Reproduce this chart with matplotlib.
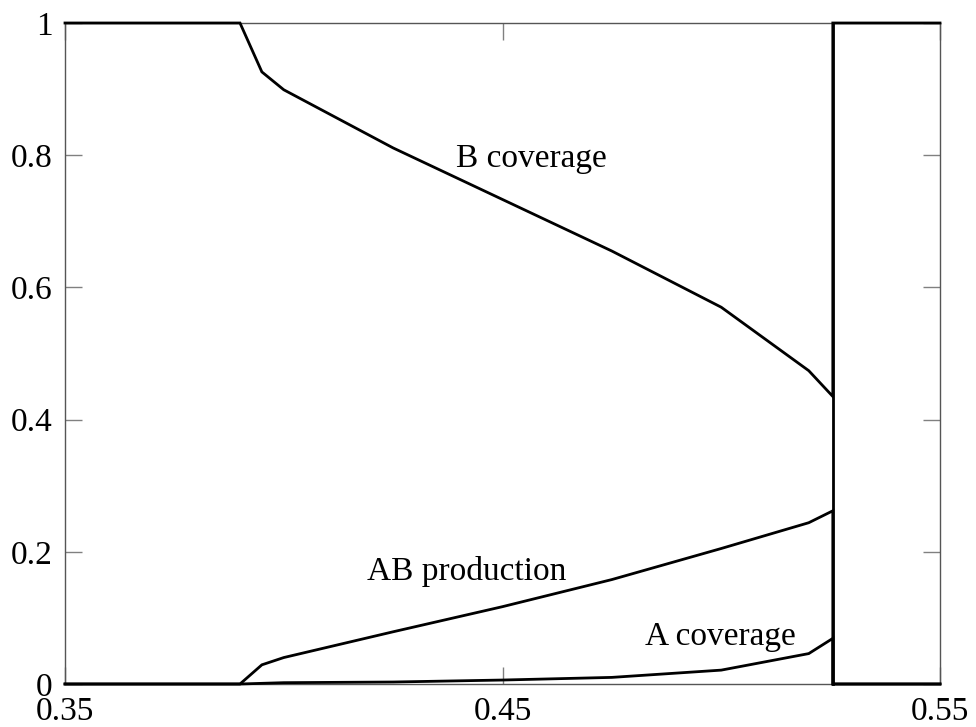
import matplotlib
matplotlib.use("Agg")
import matplotlib.pyplot as plt

# Data
x = [0.35, 0.39, 0.395, 0.40, 0.425, 0.45, 0.475, 0.50, 0.52, 0.5255, 0.5255, 0.55]
b_coverage = [1.0, 1.0, 0.926, 0.899, 0.811, 0.733, 0.655, 0.570, 0.474, 0.435, 1.0, 1.0]
ab_production = [0.0, 0.0, 0.029, 0.040, 0.079, 0.117, 0.158, 0.205, 0.244, 0.262, 0.0, 0.0]
a_coverage = [0.0, 0.0, 0.001, 0.002, 0.003, 0.006, 0.010, 0.021, 0.046, 0.069, 0.0, 0.0]

# vertical transition at the poisoning point (full 0..1 jump)
x_jump = [0.5255, 0.5255]
y_jump = [0.0, 1.0]

xticks = [0.35, 0.45, 0.55]
xtick_labels = ["0.35", "0.45", "0.55"]
yticks = [0, 0.2, 0.4, 0.6, 0.8, 1.0]
ytick_labels = ["0", "0.2", "0.4", "0.6", "0.8", "1"]

plt.rcParams['font.family'] = ['Liberation Serif', 'DejaVu Serif']

fig = plt.figure(figsize=(9.76, 7.27), dpi=100)
ax = fig.add_axes([65/976, 1-684/727, 875/976, 661/727])

for ys in (b_coverage, ab_production, a_coverage):
    ax.plot(x, ys, color='black', lw=2.0, solid_joinstyle='miter', clip_on=False, zorder=3)
ax.plot(x_jump, y_jump, color='black', lw=2.0, clip_on=False, zorder=3)

ax.set_xlim(0.35, 0.55)
ax.set_ylim(0, 1)
ax.set_xticks(xticks)
ax.set_xticklabels(xtick_labels)
ax.set_yticks(yticks)
ax.set_yticklabels(ytick_labels)

for s in ax.spines.values():
    s.set_color('#555555')
    s.set_linewidth(1.0)

ax.tick_params(axis='both', direction='in', length=12, width=1.0, color='#808080',
               labelsize=24, top=True, right=True)
ax.tick_params(axis='y', pad=9)
ax.tick_params(axis='x', pad=9)

ax.text(0.4565, 0.794, "B coverage", fontsize=24, ha='center', va='center')
ax.text(0.4418, 0.170, "AB production", fontsize=24, ha='center', va='center')
ax.text(0.4999, 0.0716, "A coverage", fontsize=24, ha='center', va='center')

fig.savefig("out.png", dpi=100)
